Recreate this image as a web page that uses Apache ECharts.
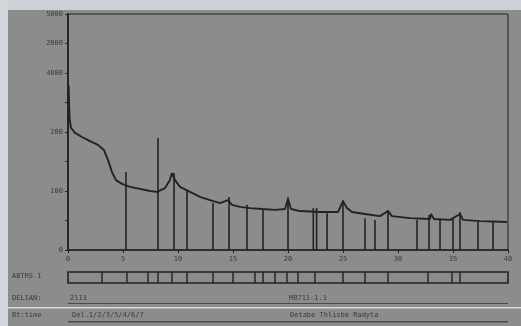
<!DOCTYPE html>
<html>
<head>
<meta charset="utf-8">
<script src="https://cdn.jsdelivr.net/npm/echarts@6/dist/echarts.min.js"></script>
<style>
  html, body { margin: 0; padding: 0; background: #8b8c8c; }
  #chart { width: 521px; height: 326px; }
</style>
</head>
<body>
<div id="chart"></div>
<script>
// trace (time units, signal units)
const traceX = [0, 0.05, 0.14, 0.27, 0.64, 1.27, 2.0, 2.73, 3.27, 3.64, 4.0, 4.36, 4.91, 5.64, 6.55, 7.45, 8.09, 8.82, 9.27, 9.45, 9.73, 10.18, 11.09, 12.0, 12.91, 13.82, 14.55, 14.91, 15.64, 16.55, 17.64, 18.82, 19.73, 20.0, 20.27, 21.09, 22.91, 24.55, 25.0, 25.36, 25.82, 27.0, 28.36, 29.09, 29.45, 31.09, 32.91, 33.0, 33.27, 34.73, 35.64, 35.91, 37.45, 39.91];
const traceY = [4.07, 5.59, 4.47, 4.14, 3.97, 3.83, 3.69, 3.56, 3.39, 3.05, 2.64, 2.37, 2.24, 2.14, 2.07, 2.0, 1.97, 2.10, 2.37, 2.61, 2.37, 2.14, 1.97, 1.80, 1.69, 1.59, 1.69, 1.53, 1.46, 1.42, 1.39, 1.36, 1.39, 1.73, 1.39, 1.32, 1.29, 1.29, 1.66, 1.42, 1.29, 1.22, 1.15, 1.32, 1.15, 1.08, 1.05, 1.22, 1.05, 1.02, 1.22, 1.02, 0.98, 0.95];

// peak marker sticks
const stickX = [5.27, 8.18, 9.64, 10.82, 13.18, 14.64, 16.27, 17.73, 20.0, 22.3, 22.6, 23.55, 25.0, 27.0, 27.91, 29.09, 31.73, 32.82, 33.82, 35.0, 35.64, 37.27, 38.64];
const stickY = [2.64, 3.80, 2.61, 2.03, 1.59, 1.80, 1.53, 1.36, 1.80, 1.42, 1.42, 1.25, 1.69, 1.08, 1.02, 1.36, 1.02, 1.19, 1.02, 1.08, 1.29, 0.95, 0.95];

// segment dividers in the event band
const bandX = [3.09, 5.36, 7.27, 8.18, 9.45, 10.82, 13.18, 15.0, 17.0, 17.73, 18.82, 19.91, 20.91, 22.45, 25.0, 27.0, 29.09, 32.73, 34.91, 35.64];

const yTickLabels = { 0: '0', 2: '100', 4: '200', 6: '4000', 7: '2000', 8: '5000' };
const xTickLabels = ['0', '5', '10', '15', '20', '25', '30', '35', '40'];

const ink = '#222';
const labelColor = '#3a3a3a';
const mono = 'DejaVu Sans Mono';

const chart = echarts.init(document.getElementById('chart'));
chart.setOption({
  backgroundColor: '#8b8c8c',
  animation: false,
  grid: [
    { left: 68, right: 13, top: 14, height: 236, show: true, borderColor: ink, borderWidth: 1, backgroundColor: 'transparent' },
    { left: 68, right: 13, top: 272, height: 11, show: true, borderColor: ink, borderWidth: 1.6, backgroundColor: 'transparent' }
  ],
  xAxis: [
    {
      gridIndex: 0, type: 'value', min: 0, max: 40, interval: 5,
      axisLine: { lineStyle: { color: ink, width: 1.6 } },
      axisTick: { show: true, length: 3, lineStyle: { color: ink } },
      axisLabel: { color: labelColor, fontSize: 7, fontFamily: mono, margin: 6,
        formatter: (v) => xTickLabels[Math.round(v / 5)] },
      splitLine: { show: false }
    },
    {
      gridIndex: 1, type: 'value', min: 0, max: 40,
      axisLine: { show: false }, axisTick: { show: false }, axisLabel: { show: false }, splitLine: { show: false }
    }
  ],
  yAxis: [
    {
      gridIndex: 0, type: 'value', min: 0, max: 8, interval: 1,
      axisLine: { show: true, lineStyle: { color: ink, width: 1.8 } },
      axisTick: { show: true, length: 3, lineStyle: { color: ink } },
      axisLabel: { color: labelColor, fontSize: 7, fontFamily: mono, margin: 5,
        formatter: (v) => yTickLabels[v] !== undefined ? yTickLabels[v] : '' },
      splitLine: { show: false }
    },
    {
      gridIndex: 1, type: 'value', min: 0, max: 1,
      axisLine: { show: false }, axisTick: { show: false }, axisLabel: { show: false }, splitLine: { show: false }
    }
  ],
  series: [
    {
      type: 'bar', xAxisIndex: 0, yAxisIndex: 0, barWidth: 1.6, barGap: '-100%',
      itemStyle: { color: ink }, silent: true,
      data: stickX.map((x, i) => [x, stickY[i]])
    },
    {
      type: 'line', xAxisIndex: 0, yAxisIndex: 0, showSymbol: false,
      lineStyle: { color: ink, width: 1.9 }, silent: true,
      data: traceX.map((x, i) => [x, traceY[i]])
    },
    {
      type: 'bar', xAxisIndex: 1, yAxisIndex: 1, barWidth: 1.4,
      itemStyle: { color: ink }, silent: true,
      data: bandX.map((x) => [x, 1])
    }
  ],
  graphic: [
    { type: 'rect', left: 0, top: 0, shape: { width: 521, height: 10 }, style: { fill: '#cdd0d4' }, silent: true },
    { type: 'rect', left: 0, top: 0, shape: { width: 8, height: 326 }, style: { fill: '#d2d5d9' }, silent: true },
    { type: 'rect', left: 8, top: 307, shape: { width: 513, height: 1.5 }, style: { fill: '#d6d8da' }, silent: true },
    { type: 'rect', left: 68, top: 303, shape: { width: 440, height: 1 }, style: { fill: '#4a4a4a' }, silent: true },
    { type: 'rect', left: 68, top: 321, shape: { width: 440, height: 1.5 }, style: { fill: '#4a4a4a' }, silent: true },
    { type: 'text', left: 12, top: 273, style: { text: 'ABTRS 1', fill: labelColor, font: '7px ' + mono } },
    { type: 'text', left: 12, top: 295, style: { text: 'DELIAN:', fill: labelColor, font: '7px ' + mono } },
    { type: 'text', left: 70, top: 295, style: { text: '2111', fill: labelColor, font: '7px ' + mono } },
    { type: 'text', left: 289, top: 295, style: { text: 'M0711-1.1', fill: labelColor, font: '7px ' + mono } },
    { type: 'text', left: 12, top: 312, style: { text: 'Bt:time', fill: labelColor, font: '7px ' + mono } },
    { type: 'text', left: 72, top: 312, style: { text: 'Del.1/2/3/5/4/6/7', fill: labelColor, font: '7px ' + mono } },
    { type: 'text', left: 290, top: 312, style: { text: 'Detabe Thlisbe Radyta', fill: labelColor, font: '7px ' + mono } }
  ]
});
</script>
</body>
</html>
